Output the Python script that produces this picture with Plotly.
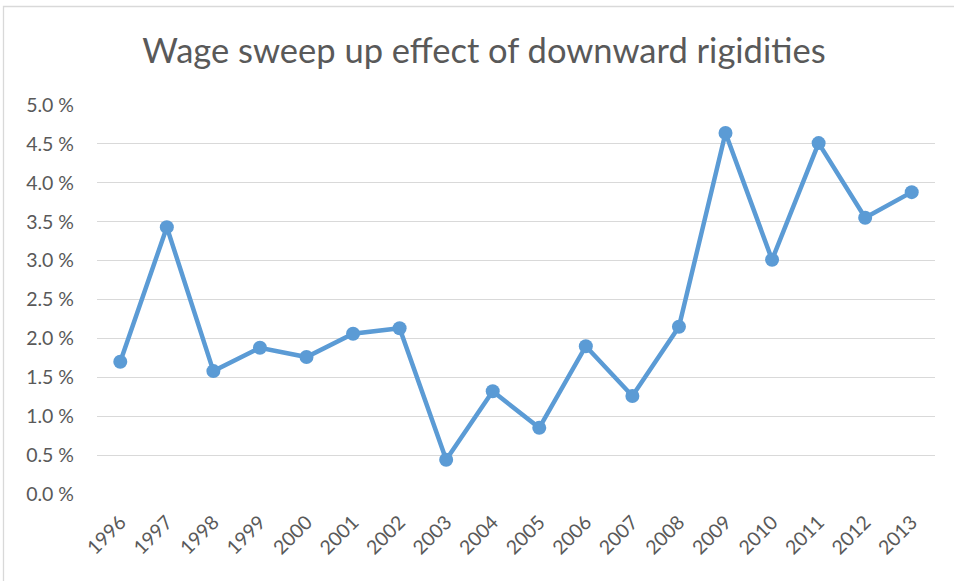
import plotly.graph_objects as go

years = ["1996","1997","1998","1999","2000","2001","2002","2003","2004","2005",
         "2006","2007","2008","2009","2010","2011","2012","2013"]
values = [1.70, 3.43, 1.58, 1.88, 1.76, 2.06, 2.13, 0.44, 1.32, 0.85,
          1.90, 1.26, 2.15, 4.64, 3.01, 4.51, 3.55, 3.88]
ytick_vals = [0.0, 0.5, 1.0, 1.5, 2.0, 2.5, 3.0, 3.5, 4.0, 4.5, 5.0]
ytick_text = [f"{v:.1f} %" for v in ytick_vals]
title = "Wage sweep up effect of downward rigidities"

fig = go.Figure()
fig.add_trace(go.Scatter(
    x=years, y=values, mode="lines+markers",
    line=dict(color="#5b9bd5", width=4.5),
    marker=dict(color="#5b9bd5", size=14),
    hoverinfo="skip",
))

W, H = 954, 581
L, R, T, B = 97, 19, 105, 87
pw, ph = W - L - R, H - T - B

fig.update_layout(
    width=W, height=H,
    margin=dict(l=L, r=R, t=T, b=B),
    paper_bgcolor="white", plot_bgcolor="white",
    showlegend=False,
    font=dict(family="Lato", color="#595959"),
    title=dict(text=title, x=484 / W, xref="container", xanchor="center",
               y=1 - 51 / H, yref="container", yanchor="middle",
               font=dict(size=34.5, color="#595959", family="Lato")),
    xaxis=dict(type="category", tickangle=-45, showgrid=False, zeroline=False,
               showline=False, ticks="", tickfont=dict(size=19.5, color="#595959"),
               range=[-0.5, len(years) - 0.5], ticklabelstandoff=12),
    yaxis=dict(range=[0, 5], tickvals=ytick_vals, ticktext=ytick_text,
               showgrid=True, gridcolor="#d9d9d9", gridwidth=1.3,
               zeroline=False, showline=False, ticks="",
               tickfont=dict(size=19.5, color="#595959"), ticklabelstandoff=22),
    shapes=[dict(type="rect", xref="paper", yref="paper",
                 x0=(3.5 - L) / pw, x1=(W + 20 - L) / pw,
                 y0=-(H + 20 - T - ph) / ph, y1=1 + (T - 6.5) / ph,
                 line=dict(color="#d9d9d9", width=1.3), layer="below")],
)

fig.write_html("out.html", config={"displayModeBar": False},
               post_script="document.body.style.margin='0';")
